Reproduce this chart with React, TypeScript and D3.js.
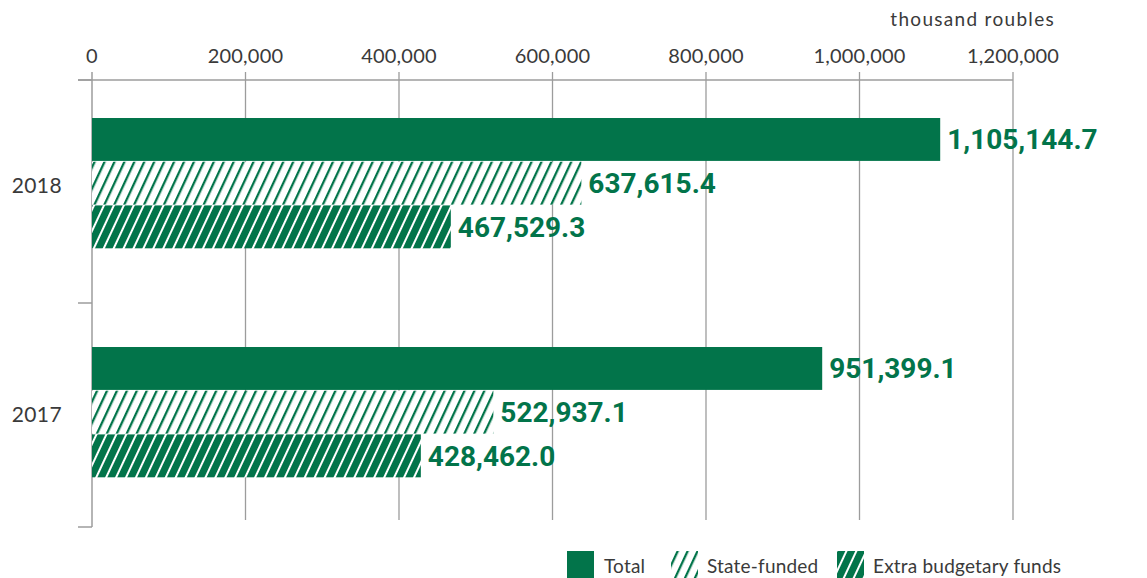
import React from "react";
import * as d3 from "d3";

const years = ["2018", "2017"];
const seriesKeys = ["total", "state", "extra"];
const seriesLabels = ["Total", "State-funded", "Extra budgetary funds"];
const totalValues = [1105144.7, 951399.1];
const stateValues = [637615.4, 522937.1];
const extraValues = [467529.3, 428462.0];
const xTicks = [0, 200000, 400000, 600000, 800000, 1000000, 1200000];
const unitLabel = "thousand roubles";

const GREEN = "#02744a";
const GRID = "#9c9c9c";
const TEXT = "#3a3a3a";
const FONT = "Lato, 'Open Sans', sans-serif";

export default function App() {
  const W = 1147, H = 578;
  const x = d3.scaleLinear().domain([0, 1200000]).range([92, 1013]);
  const y = d3.scaleBand<string>().domain(years).range([72, 530]).paddingInner(0).paddingOuter(0);
  const inner = d3
    .scaleBand<string>()
    .domain(seriesKeys)
    .range([0, y.bandwidth()])
    .paddingInner(0)
    .paddingOuter(1.12)
    .align(0.47);
  const valuesBySeries: Record<string, number[]> = {
    total: totalValues,
    state: stateValues,
    extra: extraValues,
  };
  const fillFor = (k: string) =>
    k === "total" ? GREEN : k === "state" ? "url(#hatchLight)" : "url(#hatchDark)";
  const fmtTick = d3.format(",");
  const fmtVal = d3.format(",.1f");
  const catTicks = [80, (y("2017") as number) + 2, (y("2017") as number) + y.bandwidth() - 3];

  return (
    <svg width={W} height={H} style={{ display: "block", position: "absolute", left: 0, top: 0 }}>
      <defs>
        <pattern id="hatchLight" patternUnits="userSpaceOnUse" width={9} height={9} patternTransform="rotate(25)">
          <rect width={9} height={9} fill="#fff" />
          <rect x={0} y={0} width={2.3} height={9} fill={GREEN} />
        </pattern>
        <pattern id="hatchDark" patternUnits="userSpaceOnUse" width={9} height={9} patternTransform="rotate(25)">
          <rect width={9} height={9} fill={GREEN} />
          <rect x={0} y={0} width={2} height={9} fill="#fff" />
        </pattern>
      </defs>
      <rect width={W} height={H} fill="#fff" />

      {/* unit label */}
      <text x={1055} y={26} textAnchor="end" fontFamily={FONT} fontSize={19} letterSpacing={1.3} fill={TEXT}>
        {unitLabel}
      </text>

      {/* gridlines */}
      {xTicks.slice(1).map((t) => (
        <line key={"g" + t} x1={x(t)} x2={x(t)} y1={72} y2={520} stroke={GRID} strokeWidth={1.3} />
      ))}
      {/* top axis line */}
      <line x1={78} x2={x(1200000)} y1={80} y2={80} stroke={GRID} strokeWidth={1.5} />
      {/* left axis */}
      <line x1={92} x2={92} y1={72} y2={527} stroke={GRID} strokeWidth={1.5} />
      {catTicks.map((v, i) => (
        <line key={"ct" + i} x1={78} x2={92} y1={v} y2={v} stroke={GRID} strokeWidth={1.5} />
      ))}

      {/* tick labels */}
      {xTicks.map((t) => (
        <text key={"t" + t} x={x(t)} y={63} textAnchor="middle" fontFamily={FONT} fontSize={20} letterSpacing={0.2} fill={TEXT}>
          {fmtTick(t)}
        </text>
      ))}

      {/* year labels */}
      {years.map((yr) => (
        <text
          key={yr}
          x={62}
          y={(y(yr) as number) + (inner("state") as number) + inner.bandwidth() / 2 + 1}
          textAnchor="end"
          dominantBaseline="central"
          fontFamily={FONT}
          fontSize={21}
          letterSpacing={0.4}
          fill={TEXT}
        >
          {yr}
        </text>
      ))}

      {/* bars */}
      {years.map((yr, i) =>
        seriesKeys.map((k) => {
          const v = valuesBySeries[k][i];
          const y0 = (y(yr) as number) + (inner(k) as number);
          return (
            <g key={yr + k}>
              <rect x={x(0)} y={y0} width={x(v) - x(0)} height={inner.bandwidth() - 0.8} fill={fillFor(k)} />
              <text
                x={x(v) + 7}
                y={y0 + inner.bandwidth() / 2}
                dominantBaseline="central"
                fontFamily="Roboto, sans-serif"
                fontWeight={700}
                fontSize={28}
                fill={GREEN}
              >
                {fmtVal(v)}
              </text>
            </g>
          );
        })
      )}

      {/* legend */}
      {[
        { k: "total", sx: 567, tx: 604 },
        { k: "state", sx: 671, tx: 707 },
        { k: "extra", sx: 837, tx: 873 },
      ].map((l, i) => (
        <g key={"l" + l.k}>
          <rect x={l.sx} y={551} width={27} height={27} fill={fillFor(l.k)} />
          <text x={l.tx} y={565} dominantBaseline="central" fontFamily={FONT} fontSize={19} letterSpacing={0.2} fill={TEXT}>
            {seriesLabels[i]}
          </text>
        </g>
      ))}
    </svg>
  );
}
